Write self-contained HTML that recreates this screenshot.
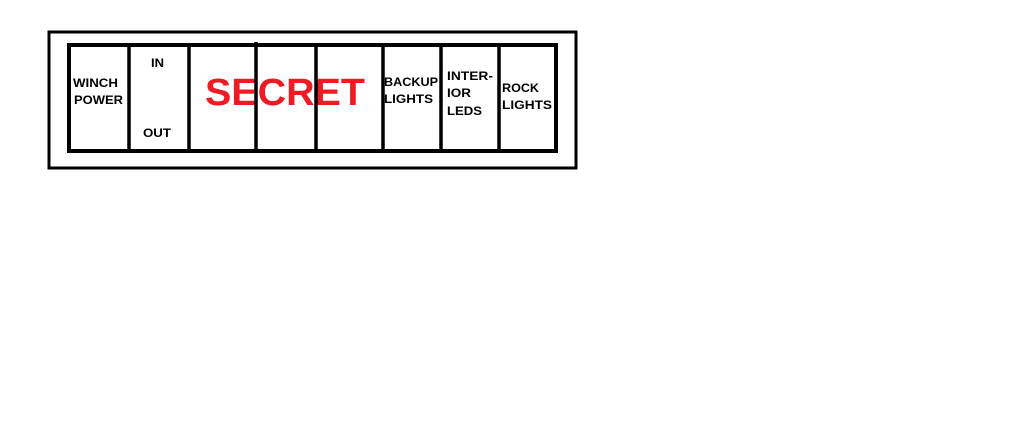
<!DOCTYPE html>
<html><head><meta charset="utf-8"><style>
html,body{margin:0;padding:0;background:#fff;}
svg{display:block;}
text{font-family:"Liberation Sans",Arial,sans-serif;font-weight:bold;}
</style></head><body>
<svg width="1024" height="425" viewBox="0 0 1024 425" xmlns="http://www.w3.org/2000/svg">
<rect x="0" y="0" width="1024" height="425" fill="#fff"/>
<rect x="49" y="32" width="527" height="136" fill="none" stroke="#000" stroke-width="3"/>
<text x="205" y="105" font-size="38" fill="#ed1c24" textLength="160" lengthAdjust="spacingAndGlyphs">SECRET</text>
<rect x="69" y="45" width="487" height="106" fill="none" stroke="#000" stroke-width="4"/>
<g stroke="#000" stroke-width="3.5">
<line x1="129" y1="45" x2="129" y2="151"/>
<line x1="189" y1="45" x2="189" y2="151"/>
<line x1="256" y1="42" x2="256" y2="151"/>
<line x1="316" y1="45" x2="316" y2="151"/>
<line x1="383" y1="45" x2="383" y2="151"/>
<line x1="441" y1="45" x2="441" y2="151"/>
<line x1="499" y1="45" x2="499" y2="151"/>
</g>
<g font-size="12" fill="#000" lengthAdjust="spacingAndGlyphs">
<text x="73" y="87" textLength="45" lengthAdjust="spacingAndGlyphs">WINCH</text>
<text x="74" y="104" textLength="49" lengthAdjust="spacingAndGlyphs">POWER</text>
<text x="151" y="67" textLength="13" lengthAdjust="spacingAndGlyphs">IN</text>
<text x="143" y="137" textLength="28" lengthAdjust="spacingAndGlyphs">OUT</text>
<text x="384" y="86" textLength="54" lengthAdjust="spacingAndGlyphs">BACKUP</text>
<text x="384" y="103" textLength="49" lengthAdjust="spacingAndGlyphs">LIGHTS</text>
<text x="447" y="80" textLength="46" lengthAdjust="spacingAndGlyphs">INTER-</text>
<text x="447" y="97" textLength="24" lengthAdjust="spacingAndGlyphs">IOR</text>
<text x="447" y="115" textLength="35" lengthAdjust="spacingAndGlyphs">LEDS</text>
<text x="502" y="92" textLength="37" lengthAdjust="spacingAndGlyphs">ROCK</text>
<text x="502" y="109" textLength="50" lengthAdjust="spacingAndGlyphs">LIGHTS</text>
</g>
</svg>
</body></html>
